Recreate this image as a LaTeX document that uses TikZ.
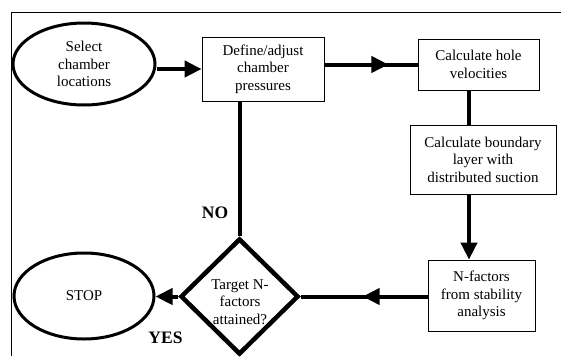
\documentclass[tikz,border=0pt]{standalone}
\usepackage{fontspec}
\setmainfont{Liberation Serif}
\usetikzlibrary{shapes.geometric,arrows.meta,decorations.markings}
\tikzset{
  tipx/.tip={Triangle[length=17pt,width=16pt]},
  txt/.style={font=\fontsize{15pt}{17.5pt}\selectfont, align=center},
  boxnode/.style={txt, draw, line width=0.8pt, inner sep=0pt},
  ovalnode/.style={txt, draw, ellipse, line width=3pt, inner sep=0pt},
  dianode/.style={draw, diamond, line width=4.5pt, inner sep=0pt},
  conn/.style={line width=4pt},
  lbl/.style={font=\fontsize{17.5pt}{20pt}\selectfont\bfseries},
  midtip/.style={postaction={decorate}, decoration={markings, mark=at position #1 with {\arrow{tipx}}}}
}
\begin{document}
\begin{tikzpicture}[x=1pt,y=-1pt]
\useasboundingbox (0,0) rectangle (561,356);
% frame
\draw[line width=0.9pt] (11,356) -- (11,12.5) -- (561,12.5);
% nodes
\node[ovalnode, minimum width=142pt, minimum height=82pt] (sel) at (84,64) {Select\\chamber\\locations};
\node[boxnode, minimum width=122pt, minimum height=64pt] (def) at (263,69) {Define/adjust\\chamber\\pressures};
\node[boxnode, minimum width=121pt, minimum height=51pt] (hole) at (478.5,64.5) {Calculate hole\\velocities};
\node[boxnode, minimum width=146pt, minimum height=69pt] (bl) at (483,159.5) {Calculate boundary\\layer with\\distributed suction};
\node[boxnode, minimum width=107pt, minimum height=71pt] (nf) at (481.5,295.5) {N-factors\\from stability\\analysis};
\node[dianode, minimum width=118pt, minimum height=116pt] (dia) at (239.5,296.5) {};
\node[txt] (diatext) at (240,302) {Target N-\\factors\\attained?};
\node[ovalnode, minimum width=140pt, minimum height=86pt] (stop) at (84,296) {STOP};
\node[lbl] (no) at (215,213) {NO};
\node[lbl] (yes) at (165.5,338) {YES};
\coordinate (vx) at (469,0);
% connectors
\draw[conn, -{tipx}] (sel.east |- def.west) -- (def.west);
\draw[conn, midtip=64pt] (def.east |- hole.west) -- (hole.west);
\draw[conn] (vx |- hole.south) -- (vx |- bl.north);
\draw[conn, -{tipx}] (vx |- bl.south) -- (vx |- nf.north);
\draw[conn, midtip=65pt] (dia.east -| nf.west) -- (dia.east);
\draw[conn, -{tipx}] (dia.west) -- (dia.west -| stop.east);
\draw[conn] (dia.north |- def.south) -- (dia.north);
\end{tikzpicture}
\end{document}
